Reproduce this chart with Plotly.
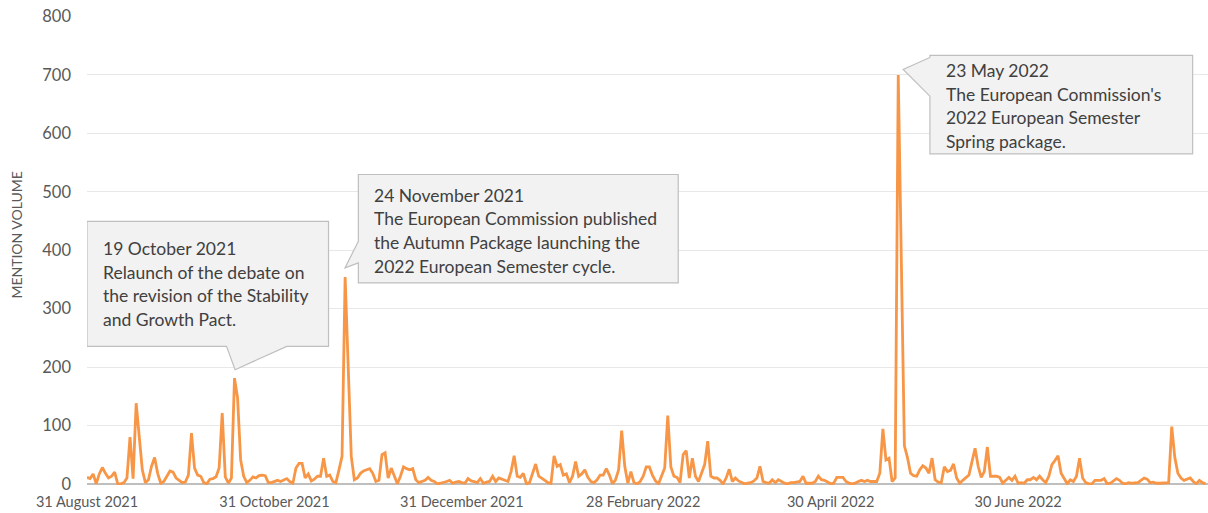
import pandas as pd
import plotly.graph_objects as go

# ---------------- data ----------------
start_date = "2021-08-31"
mention_volume = [
    11, 9, 17, 0, 17, 28, 18, 10, 13, 20,
    0, 0, 2, 10, 80, 9, 138, 81, 24, 2,
    7, 30, 45, 18, 1, 4, 12, 22, 20, 10,
    6, 2, 3, 15, 87, 27, 15, 13, 2, 0,
    8, 9, 12, 27, 121, 12, 1, 10, 181, 147,
    41, 13, 2, 6, 12, 10, 14, 15, 14, 2,
    2, 4, 6, 4, 6, 9, 4, 1, 27, 35,
    35, 10, 17, 5, 8, 13, 13, 44, 13, 15,
    4, 2, 24, 47, 354, 190, 47, 7, 10, 18,
    22, 24, 26, 18, 4, 6, 50, 53, 10, 27,
    13, 0, 13, 29, 26, 24, 26, 7, 2, 4,
    6, 11, 6, 4, 0, 1, 2, 4, 6, 1,
    3, 4, 2, 1, 9, 5, 4, 2, 9, 1,
    3, 4, 13, 4, 10, 8, 6, 4, 21, 48,
    13, 11, 18, 0, 2, 18, 34, 13, 10, 6,
    2, 1, 48, 30, 33, 15, 17, 2, 13, 38,
    13, 17, 24, 11, 4, 2, 7, 15, 15, 26,
    15, 0, 7, 24, 91, 30, 1, 21, 2, 0,
    4, 13, 29, 29, 15, 5, 0, 15, 27, 117,
    29, 13, 11, 2, 50, 57, 10, 44, 13, 4,
    20, 33, 73, 13, 10, 10, 6, 0, 10, 25,
    4, 10, 5, 2, 0, 1, 2, 5, 10, 30,
    4, 2, 1, 7, 2, 7, 4, 1, 0, 2,
    2, 3, 4, 13, 1, 1, 1, 4, 13, 7,
    6, 3, 0, 1, 11, 11, 11, 4, 1, 0,
    1, 4, 6, 4, 6, 4, 4, 4, 18, 94,
    41, 44, 4, 10, 700, 380, 65, 45, 18, 14,
    13, 24, 31, 27, 18, 44, 7, 3, 2, 29,
    21, 23, 34, 10, 1, 6, 11, 15, 38, 61,
    30, 11, 21, 63, 13, 13, 13, 11, 1, 6,
    11, 6, 13, 1, 2, 1, 7, 7, 11, 7,
    13, 7, 2, 13, 33, 40, 48, 18, 10, 0,
    7, 4, 13, 44, 10, 2, 0, 0, 6, 6,
    6, 9, 0, 1, 5, 9, 6, 1, 0, 2,
    1, 1, 2, 6, 10, 8, 2, 3, 1, 1,
    1, 1, 2, 98, 45, 18, 10, 6, 8, 10,
    4, 0, 6, 2, 0,
]
tick_dates = ["2021-08-31", "2021-10-31", "2021-12-31", "2022-02-28", "2022-04-30", "2022-06-30"]
tick_labels = ["31 August 2021", "31 October 2021", "31 December 2021",
               "28 February 2022", "30 April 2022", "30 June 2022"]
y_ticks = [0, 100, 200, 300, 400, 500, 600, 700, 800]

callout1_lines = ["19 October 2021", "Relaunch of the debate on",
                  "the revision of the Stability", "and Growth Pact."]
callout2_lines = ["24 November 2021", "The European Commission published",
                  "the Autumn Package launching the", "2022 European Semester cycle."]
callout3_lines = ["23 May 2022", "The European Commission's",
                  "2022 European Semester", "Spring package."]

# ---------------- helpers ----------------
start = pd.Timestamp(start_date)
dates = pd.date_range(start, periods=len(mention_volume), freq="D")


def dstr(day):
    return (start + pd.Timedelta(minutes=round(day * 1440))).strftime("%Y-%m-%d %H:%M:%S")


def pdate(day):
    return dstr(day).replace(" ", "_")


LINE = "#F79646"
TXT = "#595959"
CTXT = "#404040"
FONT = "Lato, 'Open Sans', sans-serif"

fig = go.Figure()
fig.add_trace(go.Scatter(
    x=dates, y=mention_volume, mode="lines",
    line=dict(color=LINE, width=2.8), hoverinfo="skip", showlegend=False,
))

# callout geometry (x in days since start, y in data units)
callouts = [
    dict(box=(0.0, 78.6, 449.5, 235.3), tail=("bottom", 45.4, 65.0, 48.2, 195.4),
         text_x=4.6, text_y=[402.2, 362.1, 322.0, 281.9], lines=callout1_lines),
    dict(box=(88.3, 192.4, 529.6, 344.0), tail=("left", 415.3, 378.3, 83.96, 369.7),
         text_x=92.65, text_y=[493.6, 453.6, 412.5, 371.4], lines=callout2_lines),
    dict(box=(274.3, 359.8, 733.5, 565.0), tail=("left", 730.0, 663.8, 265.6, 709.5),
         text_x=278.98, text_y=[707.8, 666.7, 626.7, 586.6], lines=callout3_lines),
]

shapes = []
annotations = []
for c in callouts:
    x0, x1, yt, yb = c["box"]
    kind, a, b, tx, ty = c["tail"]
    if kind == "bottom":
        pts = [(x0, yt), (x1, yt), (x1, yb), (b, yb), (tx, ty), (a, yb), (x0, yb)]
    else:
        pts = [(x0, yt), (x1, yt), (x1, yb), (x0, yb), (x0, b), (tx, ty), (x0, a)]
    path = "M " + " L ".join(f"{pdate(px)},{py}" for px, py in pts) + " Z"
    shapes.append(dict(type="path", xref="x", yref="y", path=path,
                       fillcolor="#F2F2F2", line=dict(color="#BFBFBF", width=1.2),
                       layer="above"))
    for line_txt, ly in zip(c["lines"], c["text_y"]):
        annotations.append(dict(
            x=dstr(c["text_x"]), y=ly, xref="x", yref="y", text=line_txt,
            showarrow=False, xanchor="left", yanchor="middle", align="left",
            font=dict(family=FONT, size=17.5, color=CTXT)))

annotations.append(dict(
    x=-0.0624, y=0.534, xref="paper", yref="paper", text="MENTION VOLUME",
    textangle=-90, showarrow=False, xanchor="center", yanchor="middle",
    font=dict(family=FONT, size=14, color=TXT)))

fig.update_layout(
    width=1208, height=513,
    margin=dict(l=87, r=0, t=16.4, b=28, autoexpand=False),
    paper_bgcolor="white", plot_bgcolor="white",
    font=dict(family=FONT, color=TXT),
    shapes=shapes, annotations=annotations,
    showlegend=False,
)
fig.update_xaxes(
    type="date", range=[dstr(0), dstr(364.8)], automargin=False,
    tickmode="array", tickvals=tick_dates, ticktext=tick_labels,
    showgrid=False, showline=False, zeroline=False, ticks="",
    tickfont=dict(family=FONT, size=14.5, color=TXT), ticklabelstandoff=6,
    ticklabeloverflow="allow",
)
fig.update_yaxes(
    range=[-2, 801], tickmode="array", tickvals=y_ticks, automargin=False,
    showgrid=True, gridcolor="#E8E8E8", gridwidth=1,
    zeroline=True, zerolinecolor="#BFBFBF", zerolinewidth=2.2,
    showline=False, ticks="", ticklabelstandoff=15, ticklabeloverflow="allow",
    tickfont=dict(family=FONT, size=16.5, color=TXT),
)

# remove the browser's default 8px body margin so the figure sits at the page origin
fig.write_html("out.html", config={"displayModeBar": False},
               post_script="document.body.style.margin='0px';")
